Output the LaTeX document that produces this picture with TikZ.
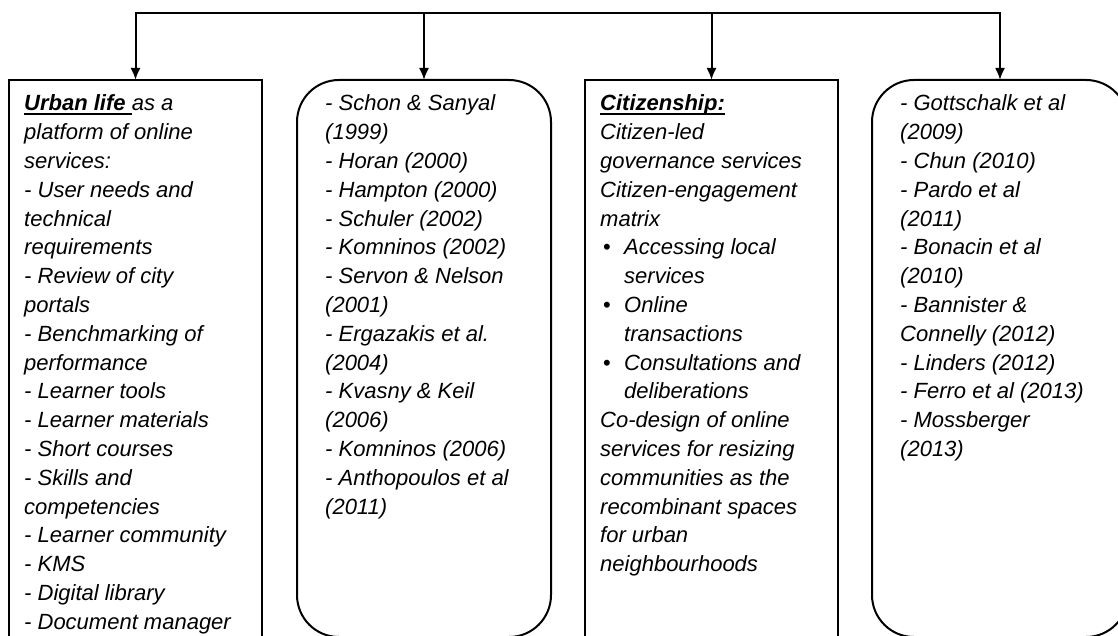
\documentclass[tikz,border=0pt]{standalone}
\usepackage{fontspec}
\setmainfont{Liberation Sans}
\usetikzlibrary{arrows.meta}
% bullet item and its continuation indent
\newcommand\bitem{\makebox[24pt][l]{\hspace{3pt}\upshape\textbullet}}
\newcommand\bcont{\hspace*{24pt}}
% bold heading with a heavy underline
\newsavebox\headbox
\newcommand\ulhead[1]{\leavevmode\sbox\headbox{\bfseries #1}\rlap{\rule[-4pt]{\wd\headbox}{1.8pt}}\usebox\headbox}
\begin{document}
\begin{tikzpicture}[x=1pt,y=-1pt,
  box/.style={draw, line width=2pt, anchor=north west, inner sep=0pt, outer sep=0pt},
  rbox/.style={box, rounded corners=42pt},
  txt/.style={anchor=base west, inner sep=0pt, font=\fontsize{22}{28.8}\selectfont\itshape},
  arr/.style={line width=2pt, -{Latex[length=12pt,width=10pt]}},
  bus/.style={line width=2pt, line cap=rect}]
\useasboundingbox (0,0) rectangle (1118,636);

% the four columns
\node[box,  minimum width=253pt, minimum height=600pt] (b1) at (9,80) {};
\node[rbox, minimum width=254pt, minimum height=557pt] (b2) at (297,80) {};
\node[box,  minimum width=253pt, minimum height=600pt] (b3) at (585,80) {};
\node[rbox, minimum width=256pt, minimum height=557pt] (b4) at (872,80) {};

% distribution line and arrows
\coordinate (j1) at (b1.north |- 0,13);
\coordinate (j2) at (b2.north |- 0,13);
\coordinate (j3) at (b3.north |- 0,13);
\coordinate (j4) at (b4.north |- 0,13);
\draw[bus] (j1) -- (j4);
\draw[arr] (j1) -- (b1.north);
\draw[arr] (j2) -- (b2.north);
\draw[arr] (j3) -- (b3.north);
\draw[arr] (j4) -- (b4.north);

% column texts
\node[txt] (t1) at (24,111) {\parbox[t]{300pt}{\raggedright
\ulhead{Urban life }as a\\
platform of online\\
services:\\
- User needs and\\
technical\\
requirements\\
- Review of city\\
portals\\
- Benchmarking of\\
performance\\
- Learner tools\\
- Learner materials\\
- Short courses\\
- Skills and\\
competencies\\
- Learner community\\
- KMS\\
- Digital library\\
- Document manager}};

\node[txt] (t2) at (325,111) {\parbox[t]{300pt}{\raggedright
- Schon \& Sanyal\\
(1999)\\
- Horan (2000)\\
- Hampton (2000)\\
- Schuler (2002)\\
- Komninos (2002)\\
- Servon \& Nelson\\
(2001)\\
- Ergazakis et al.\\
(2004)\\
- Kvasny \& Keil\\
(2006)\\
- Komninos (2006)\\
- Anthopoulos et al\\
(2011)}};

\node[txt] (t3) at (600,111) {\parbox[t]{300pt}{\raggedright
\ulhead{Citizenship:}\\
Citizen-led\\
governance services\\
Citizen-engagement\\
matrix\\
\bitem Accessing local\\
\bcont services\\
\bitem Online\\
\bcont transactions\\
\bitem Consultations and\\
\bcont deliberations\\
Co-design of online\\
services for resizing\\
communities as the\\
recombinant spaces\\
for urban\\
neighbourhoods}};

\node[txt] (t4) at (900,111) {\parbox[t]{300pt}{\raggedright
- Gottschalk et al\\
(2009)\\
- Chun (2010)\\
- Pardo et al\\
(2011)\\
- Bonacin et al\\
(2010)\\
- Bannister \&\\
Connelly (2012)\\
- Linders (2012)\\
- Ferro et al (2013)\\
- Mossberger\\
(2013)}};
\end{tikzpicture}
\end{document}
